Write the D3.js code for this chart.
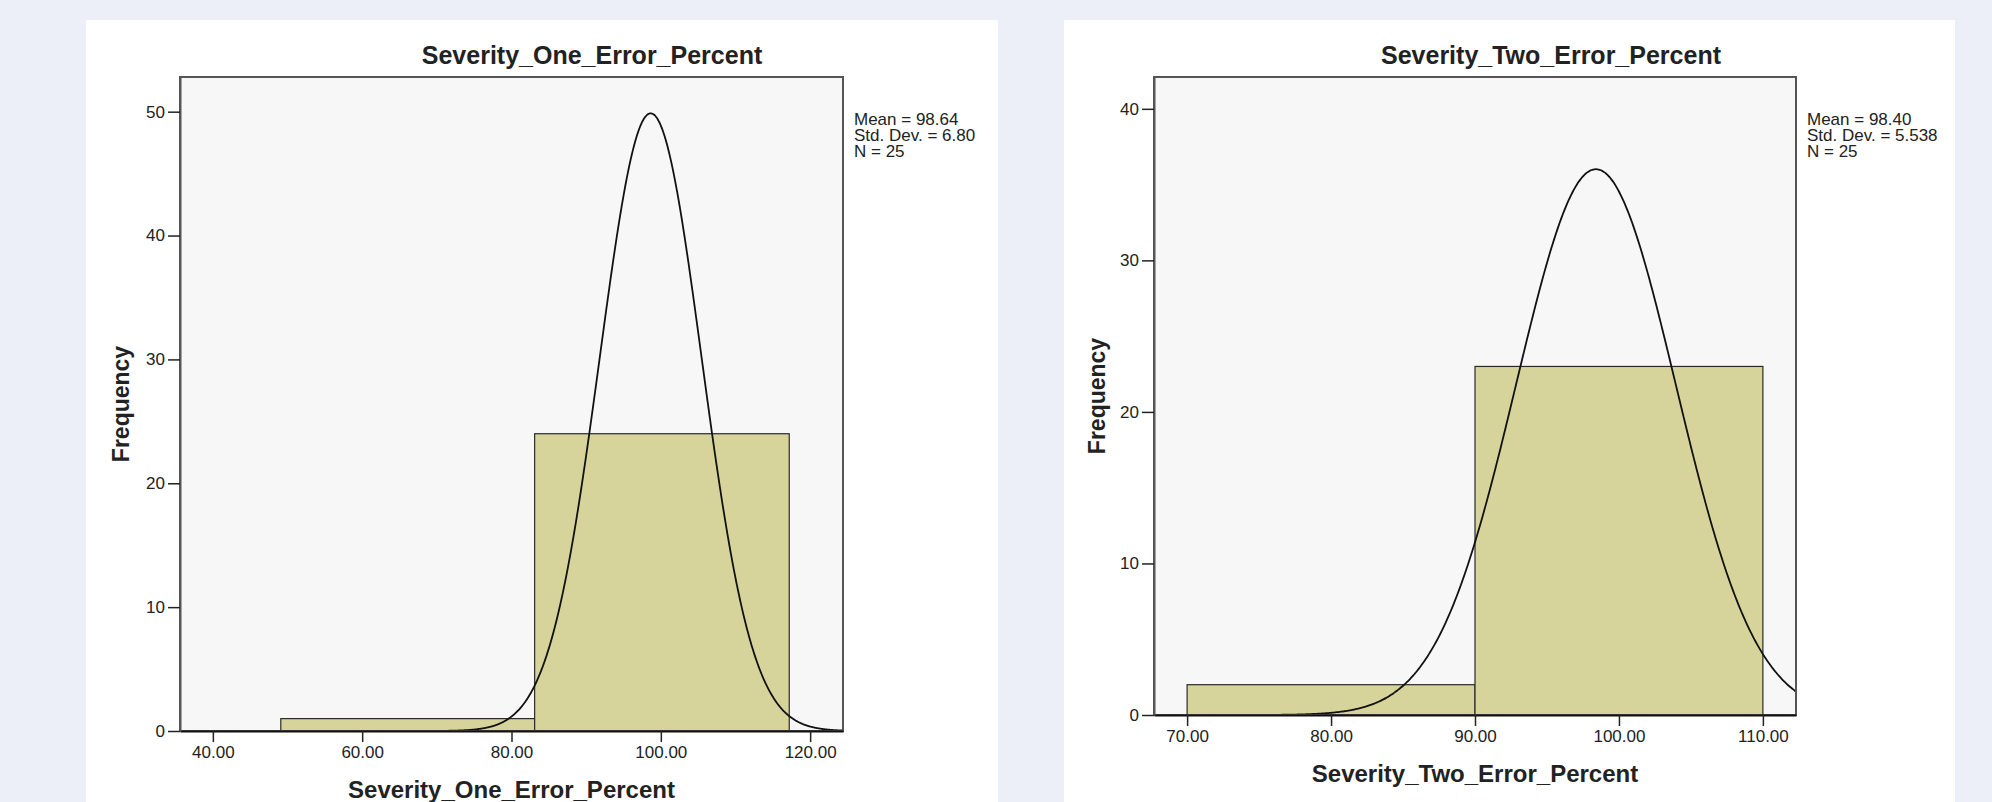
<!DOCTYPE html>
<html>
<head>
<meta charset="utf-8">
<script src="https://cdn.jsdelivr.net/npm/d3@7"></script>
<style>
  body { margin: 0; background: #eceff7; }
  svg { display: block; }
  text { font-family: "Liberation Sans", Arial, sans-serif; fill: #222; }
</style>
</head>
<body>
<div id="chart"></div>
<script>
// histogram 1
var oneTitle = "Severity_One_Error_Percent";
var oneEdges = [49.1, 83.1, 117.2];
var oneCounts = [1, 24];
var oneTicksX = [40, 60, 80, 100, 120];
var oneTicksY = [0, 10, 20, 30, 40, 50];
var oneStats = [98.64, 6.80, 25];
var oneLegend = ["Mean = 98.64", "Std. Dev. = 6.80", "N = 25"];

// histogram 2
var twoTitle = "Severity_Two_Error_Percent";
var twoEdges = [70, 90, 110];
var twoCounts = [2, 23];
var twoTicksX = [70, 80, 90, 100, 110];
var twoTicksY = [0, 10, 20, 30, 40];
var twoStats = [98.40, 5.538, 25];
var twoLegend = ["Mean = 98.40", "Std. Dev. = 5.538", "N = 25"];

var width = 1992, height = 802;

var svg = d3.select("#chart").append("svg")
    .attr("width", width)
    .attr("height", height);

// white panels behind each chart
svg.append("rect").attr("x", 86).attr("y", 20).attr("width", 912).attr("height", 790).attr("fill", "#fff");
svg.append("rect").attr("x", 1064).attr("y", 20).attr("width", 891).attr("height", 790).attr("fill", "#fff");

function drawHist(cfg){
    var x = d3.scaleLinear().domain(cfg.xDomain).range([cfg.left, cfg.right]);
    var y = d3.scaleLinear().domain(cfg.yDomain).range([cfg.bottom, cfg.top]);

    var g = svg.append("g");
    var clipId = "clip" + cfg.id;
    g.append("clipPath").attr("id", clipId)
      .append("rect")
        .attr("x", cfg.left).attr("y", cfg.top)
        .attr("width", cfg.right - cfg.left).attr("height", cfg.bottom - cfg.top);

    // plot background
    g.append("rect")
        .attr("x", cfg.left).attr("y", cfg.top)
        .attr("width", cfg.right - cfg.left).attr("height", cfg.bottom - cfg.top)
        .attr("fill", "#f7f7f7");

    var bins = cfg.counts.map(function(c, i){
        return {x0: cfg.edges[i], x1: cfg.edges[i + 1], count: c};
    });

    g.selectAll(".bar")
        .data(bins)
        .enter()
        .append("rect")
        .attr("class", "bar")
        .attr("x", function(d){ return x(d.x0); })
        .attr("y", function(d){ return y(d.count); })
        .attr("width", function(d){ return x(d.x1) - x(d.x0); })
        .attr("height", function(d){ return y(0) - y(d.count); })
        .attr("fill", "#d7d49b")
        .attr("stroke", "#2a2a2a")
        .attr("stroke-width", 1.2);

    // normal curve scaled to counts
    var mean = cfg.stats[0], sd = cfg.stats[1], n = cfg.stats[2];
    var binW = cfg.edges[1] - cfg.edges[0];
    var pts = d3.range(cfg.xDomain[0], cfg.xDomain[1] + 0.01, 0.1).map(function(v){
        var z = (v - mean) / sd;
        return [v, n * binW / (sd * Math.sqrt(2 * Math.PI)) * Math.exp(-0.5 * z * z)];
    });
    var line = d3.line()
        .x(function(d){ return x(d[0]); })
        .y(function(d){ return y(d[1]); })
        .curve(d3.curveBasis);
    g.append("path")
        .datum(pts)
        .attr("clip-path", "url(#" + clipId + ")")
        .attr("fill", "none")
        .attr("stroke", "#111")
        .attr("stroke-width", 1.8)
        .attr("d", line);

    // frame
    g.append("rect")
        .attr("x", cfg.left).attr("y", cfg.top)
        .attr("width", cfg.right - cfg.left).attr("height", cfg.bottom - cfg.top)
        .attr("fill", "none")
        .attr("stroke", "#555")
        .attr("stroke-width", 2);

    var xAxis = g.append("g")
        .attr("transform", "translate(0," + cfg.bottom + ")")
        .call(d3.axisBottom(x).tickValues(cfg.ticksX).tickSize(11).tickSizeOuter(0).tickPadding(4)
            .tickFormat(d3.format(".2f")));
    var yAxis = g.append("g")
        .attr("transform", "translate(" + cfg.left + ",0)")
        .call(d3.axisLeft(y).tickValues(cfg.ticksY).tickSize(12).tickSizeOuter(0).tickPadding(3));

    [xAxis, yAxis].forEach(function(a){
        a.select(".domain").attr("stroke", "#111").attr("stroke-width", 2);
        a.selectAll(".tick line").attr("stroke", "#222").attr("stroke-width", 1.5);
        a.selectAll(".tick text")
            .attr("fill", "#333")
            .style("font-size", "17px")
            .style("font-family", "'Liberation Sans', Arial, sans-serif");
    });
    yAxis.select(".domain").attr("stroke", "#555");

    g.append("text")
        .attr("x", cfg.titleX).attr("y", 64)
        .attr("text-anchor", "middle")
        .style("font-size", "25px")
        .style("font-weight", "bold")
        .text(cfg.title);

    g.append("text")
        .attr("x", (cfg.left + cfg.right) / 2).attr("y", cfg.xTitleY)
        .attr("text-anchor", "middle")
        .style("font-size", "24px")
        .style("font-weight", "bold")
        .text(cfg.title);

    g.append("text")
        .attr("transform", "translate(" + cfg.yTitleX + "," + ((cfg.top + cfg.bottom) / 2) + ") rotate(-90)")
        .attr("text-anchor", "middle")
        .style("font-size", "23px")
        .style("font-weight", "bold")
        .text("Frequency");

    g.selectAll(".legend")
        .data(cfg.legend)
        .enter()
        .append("text")
        .attr("class", "legend")
        .attr("x", cfg.right + 11)
        .attr("y", function(d, i){ return 125 + i * 16; })
        .attr("fill", "#333")
        .style("font-size", "17px")
        .text(function(d){ return d; });
}

drawHist({
    id: 1, title: oneTitle, edges: oneEdges, counts: oneCounts,
    ticksX: oneTicksX, ticksY: oneTicksY, stats: oneStats, legend: oneLegend,
    xDomain: [35.6, 124.4], yDomain: [0, 52.8],
    left: 180, right: 843, top: 77, bottom: 731,
    titleX: 592, xTitleY: 798, yTitleX: 129
});

drawHist({
    id: 2, title: twoTitle, edges: twoEdges, counts: twoCounts,
    ticksX: twoTicksX, ticksY: twoTicksY, stats: twoStats, legend: twoLegend,
    xDomain: [67.7, 112.3], yDomain: [0, 42.1],
    left: 1154, right: 1796, top: 77, bottom: 715,
    titleX: 1551, xTitleY: 782, yTitleX: 1105
});
</script>
</body>
</html>
